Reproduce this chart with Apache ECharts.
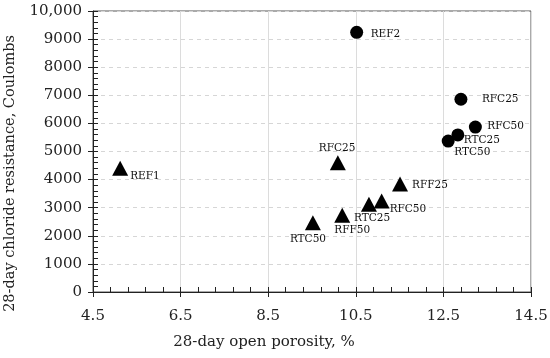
<!DOCTYPE html>
<html>
<head>
<meta charset="utf-8">
<script src="https://cdn.jsdelivr.net/npm/echarts@6/dist/echarts.min.js"></script>
<style>html,body{margin:0;padding:0;background:#fff}#c{width:550px;height:358px}</style>
</head>
<body>
<div id="c"></div>
<script>
// Data
const circleNames = ['REF2', 'RFC25', 'RFC50', 'RTC25', 'RTC50'];
const circleX = [10.52, 12.90, 13.23, 12.83, 12.61];
const circleY = [9240, 6860, 5870, 5590, 5370];
const triNames = ['REF1', 'RFC25', 'RFF25', 'RFC50', 'RTC25', 'RFF50', 'RTC50'];
const triX = [5.12, 10.09, 11.51, 11.09, 10.80, 10.19, 9.52];
const triY = [4400, 4600, 3840, 3240, 3120, 2730, 2460];
const xTicks = [4.5, 6.5, 8.5, 10.5, 12.5, 14.5];
const yTicks = [0, 1000, 2000, 3000, 4000, 5000, 6000, 7000, 8000, 9000, 10000];

// Label placement (styling)
const circleLabelOffset = [[14, 2], [21, 0], [12, -1], [6, 5], [6, 11]];
const triLabelOffset = [[10, 8], [-19, -14], [12, 1], [8, 8], [-15, 14], [-8, 15], [-23, 16]];

const FONT = 'DejaVu Serif';
function build(names, xs, ys, offs) {
  return names.map((n, i) => ({
    name: n, value: [xs[i], ys[i]],
    label: { show: true, position: 'inside', align: 'left', verticalAlign: 'middle',
      offset: offs[i], formatter: n, color: '#111', fontFamily: FONT, fontSize: 10.5 }
  }));
}
const chart = echarts.init(document.getElementById('c'));
const axisColor = '#222';
chart.setOption({
  animation: false,
  grid: { left: 93, right: 19, top: 11, bottom: 66, show: true, borderColor: '#555', borderWidth: 1,
    containLabel: false, outerBoundsMode: 'none' },
  xAxis: [{
    type: 'value', min: xTicks[0], max: xTicks[xTicks.length - 1], interval: 2,
    name: '28-day open porosity, %', nameLocation: 'middle', nameGap: 43,
    nameTextStyle: { fontFamily: FONT, fontSize: 15, color: '#222', padding: [0, 96, 0, 0] },
    axisLine: { show: true, lineStyle: { color: axisColor } },
    axisTick: { show: true, inside: true, length: 5, lineStyle: { color: axisColor } },
    minorTick: { show: true, splitNumber: 5, length: 5, lineStyle: { color: axisColor } },
    axisLabel: { fontFamily: FONT, fontSize: 15, color: '#222', margin: 17, formatter: v => v.toFixed(1) },
    splitLine: { show: true, lineStyle: { color: '#dcdcdc', width: 1 } }
  }, {
    type: 'value', min: xTicks[0], max: xTicks[xTicks.length - 1], interval: 2, position: 'bottom',
    axisLine: { show: false }, axisLabel: { show: false }, splitLine: { show: false },
    axisTick: { show: true, inside: false, length: 5, lineStyle: { color: axisColor } }
  }],
  yAxis: [{
    type: 'value', min: yTicks[0], max: yTicks[yTicks.length - 1], interval: 1000,
    name: '28-day chloride resistance, Coulombs', nameLocation: 'middle', nameGap: 75,
    nameTextStyle: { fontFamily: FONT, fontSize: 14.5, color: '#222', padding: [0, 44, 0, 0] },
    axisLine: { show: true, lineStyle: { color: axisColor } },
    axisTick: { show: true, inside: true, length: 5, lineStyle: { color: axisColor } },
    minorTick: { show: true, splitNumber: 5, length: 5, lineStyle: { color: axisColor } },
    axisLabel: { fontFamily: FONT, fontSize: 15, color: '#222', margin: 11,
      formatter: v => v === 10000 ? '10,000' : String(v) },
    splitLine: { show: true, lineStyle: { color: '#d6d6d6', type: [4, 4], width: 1 } }
  }, {
    type: 'value', min: yTicks[0], max: yTicks[yTicks.length - 1], interval: 1000, position: 'left',
    axisLine: { show: false }, axisLabel: { show: false }, splitLine: { show: false },
    axisTick: { show: true, inside: false, length: 5, lineStyle: { color: axisColor } }
  }],
  series: [{
    type: 'scatter', symbol: 'circle', symbolSize: 13,
    itemStyle: { color: '#000', opacity: 1 },
    data: build(circleNames, circleX, circleY, circleLabelOffset)
  }, {
    type: 'scatter', symbol: 'triangle', symbolSize: [16, 15],
    itemStyle: { color: '#000', opacity: 1 },
    data: build(triNames, triX, triY, triLabelOffset)
  }]
});
</script>
</body>
</html>
